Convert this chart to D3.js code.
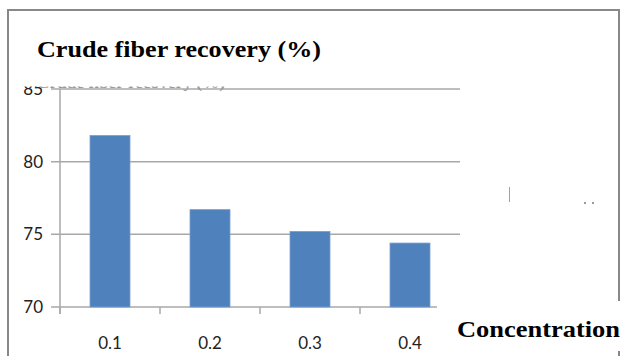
<!DOCTYPE html>
<html>
<head>
<meta charset="utf-8">
<script src="https://cdn.jsdelivr.net/npm/d3@7"></script>
<style>
  html, body { margin: 0; padding: 0; background: #fff; }
  svg { display: block; }
</style>
</head>
<body>
<svg id="chart" width="621" height="356"></svg>
<script>
// Crude fiber recovery by concentration
const categories = ["0.1", "0.2", "0.3", "0.4"];
const recovery = [81.8, 76.7, 75.2, 74.4];
const yTicks = [70, 75, 80, 85];
const titleText = "Crude fiber recovery (%)";
const xTitleText = "Concentration";

const svg = d3.select("#chart");

const x = d3.scaleBand()
  .domain(categories)
  .range([60, 460])
  .paddingInner(0.6)
  .paddingOuter(0.3);

const y = d3.scaleLinear()
  .domain([70, 85])
  .range([307, 89]);

const gridColor = "#a8a8a8";
const labelFont = "Lato, 'Open Sans', sans-serif";
const serifFont = "'Liberation Serif', 'DejaVu Serif', serif";

// Outer frame
svg.append("path")
  .attr("d", "M8,356 V10 H619 V356")
  .attr("fill", "none")
  .attr("stroke", "#888")
  .attr("stroke-width", 2);

// Horizontal gridlines with their left tick marks
svg.append("g").selectAll("line")
  .data(yTicks)
  .join("line")
  .attr("x1", 51)
  .attr("x2", 460)
  .attr("y1", d => y(d))
  .attr("y2", d => y(d))
  .attr("stroke", gridColor)
  .attr("stroke-width", 1.5);

// Vertical axis line
svg.append("line")
  .attr("x1", 60).attr("x2", 60)
  .attr("y1", y(85)).attr("y2", y(70) + 7)
  .attr("stroke", gridColor)
  .attr("stroke-width", 1.5);

// Category boundary ticks on the baseline
const boundaries = categories.map(c => x(c) - x.step() * x.paddingInner() / 2);
boundaries.push(x(categories[categories.length - 1]) + x.bandwidth() + x.step() * x.paddingInner() / 2);
svg.append("g").selectAll("line")
  .data(boundaries)
  .join("line")
  .attr("x1", d => d).attr("x2", d => d)
  .attr("y1", y(70)).attr("y2", y(70) + 7)
  .attr("stroke", gridColor)
  .attr("stroke-width", 1.5);

// Bars
svg.append("g").selectAll("rect")
  .data(categories.map((c, i) => ({ c, v: recovery[i] })))
  .join("rect")
  .attr("x", d => x(d.c))
  .attr("y", d => y(d.v))
  .attr("width", x.bandwidth())
  .attr("height", d => y(70) - y(d.v))
  .attr("fill", "#4f81bd")
  .attr("stroke", "#7a9fd0")
  .attr("stroke-width", 0.8);

// Y tick labels
svg.append("g").selectAll("text")
  .data(yTicks)
  .join("text")
  .attr("x", 43)
  .attr("y", d => y(d))
  .attr("dy", "0.36em")
  .attr("text-anchor", "end")
  .attr("font-family", labelFont)
  .attr("font-size", 17)
  .attr("fill", "#222")
  .text(d => d);

// X tick labels
svg.append("g").selectAll("text")
  .data(categories)
  .join("text")
  .attr("x", d => x(d) + x.bandwidth() / 2)
  .attr("y", 349)
  .attr("text-anchor", "middle")
  .attr("font-family", labelFont)
  .attr("font-size", 17)
  .attr("fill", "#222")
  .text(d => d);

// Faint underlying axis title, mostly covered by the main title block
svg.append("text")
  .attr("x", 37)
  .attr("y", 88)
  .attr("font-family", serifFont)
  .attr("font-weight", "bold")
  .attr("font-size", 15)
  .attr("fill", "#999")
  .attr("textLength", 188)
  .attr("lengthAdjust", "spacingAndGlyphs")
  .text(titleText);

// Title block
svg.append("rect")
  .attr("x", 9).attr("y", 11)
  .attr("width", 609).attr("height", 75.5)
  .attr("fill", "#fff");
svg.append("text")
  .attr("x", 37)
  .attr("y", 57)
  .attr("font-family", serifFont)
  .attr("font-weight", "bold")
  .attr("font-size", 23)
  .attr("fill", "#000")
  .attr("textLength", 284)
  .attr("lengthAdjust", "spacingAndGlyphs")
  .text(titleText);

// Axis title block
svg.append("rect")
  .attr("x", 437).attr("y", 301)
  .attr("width", 184).attr("height", 50)
  .attr("fill", "#fff");
svg.append("text")
  .attr("x", 457)
  .attr("y", 337)
  .attr("font-family", serifFont)
  .attr("font-weight", "bold")
  .attr("font-size", 23)
  .attr("fill", "#000")
  .attr("textLength", 163)
  .attr("lengthAdjust", "spacingAndGlyphs")
  .text(xTitleText);

// Small stray marks on the right side
svg.append("line")
  .attr("x1", 509.5).attr("x2", 509.5)
  .attr("y1", 187).attr("y2", 202)
  .attr("stroke", "#8aa4d0")
  .attr("stroke-width", 1);
svg.append("g").selectAll("rect")
  .data([584, 592])
  .join("rect")
  .attr("x", d => d).attr("y", 202)
  .attr("width", 2).attr("height", 2)
  .attr("fill", "#999");
</script>
</body>
</html>
